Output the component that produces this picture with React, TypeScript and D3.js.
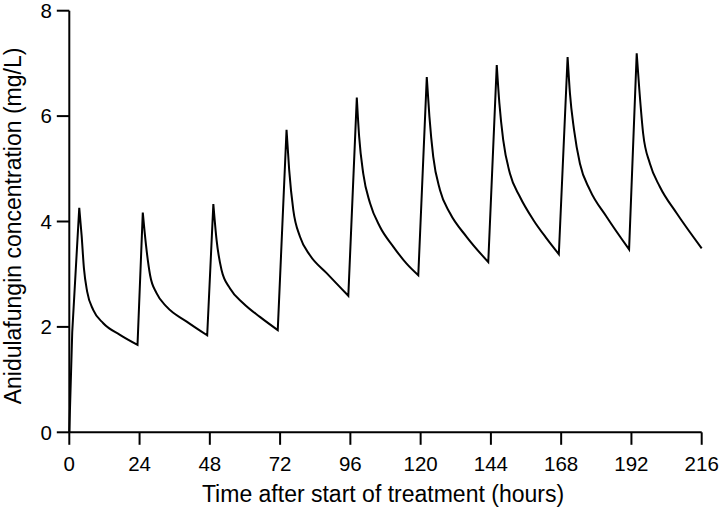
import React from "react";
import * as d3 from "d3";

const timeH: number[] = [
  0, 1.0, 3.4, 4.2, 5.0, 6.1, 8.2, 11.6, 17.3, 23.3,
  25.1, 26.2, 27.6, 29.8, 33.3, 40.1, 47.1,
  49.2, 50.3, 52.0, 54.9, 59.4, 65.1, 71.2,
  74.2, 75.1, 76.5, 78.8, 82.2, 87.9, 95.3,
  98.2, 99.0, 100.4, 102.7, 106.1, 110.7, 115.2, 119.2,
  122.1, 123.0, 124.3, 126.6, 130.0, 135.7, 143.1,
  146.0, 146.9, 148.2, 150.5, 153.9, 158.5, 163.0, 167.2,
  170.2, 171.0, 172.4, 174.4, 177.8, 183.5, 191.2,
  193.8, 194.7, 196.0, 198.3, 201.7, 207.4, 216,
];
const concMgL: number[] = [
  0, 1.9, 4.26, 3.74, 3.11, 2.67, 2.32, 2.07, 1.85, 1.66,
  4.17, 3.55, 2.98, 2.64, 2.38, 2.10, 1.84,
  4.33, 3.65, 3.08, 2.73, 2.45, 2.19, 1.94,
  5.74, 4.98, 4.22, 3.71, 3.36, 3.02, 2.59,
  6.35, 5.61, 4.91, 4.35, 3.90, 3.52, 3.20, 2.98,
  6.74, 5.99, 5.23, 4.60, 4.16, 3.71, 3.23,
  6.97, 6.24, 5.55, 4.91, 4.47, 4.03, 3.68, 3.38,
  7.12, 6.43, 5.74, 5.10, 4.60, 4.09, 3.47,
  7.19, 6.50, 5.67, 5.10, 4.66, 4.16, 3.49,
];
const xTicks: number[] = [0, 24, 48, 72, 96, 120, 144, 168, 192, 216];
const yTicks: number[] = [0, 2, 4, 6, 8];
const xTitle = "Time after start of treatment (hours)";
const yTitle = "Anidulafungin concentration (mg/L)";

type P = [number, number];

export default function App() {
  const W = 720, H = 514;
  const x = d3.scaleLinear().domain([0, 216]).range([69.3, 701.7]);
  const y = d3.scaleLinear().domain([0, 8]).range([432.3, 10.7]);
  const pts: P[] = timeH.map((t, i) => [t, concMgL[i]] as P);

  // rising stretches drawn straight, decaying stretches smoothed
  const smooth = d3.line<P>().x(p => x(p[0])).y(p => y(p[1])).curve(d3.curveMonotoneX);
  let d = `M${x(pts[0][0])},${y(pts[0][1])}`;
  let i = 0;
  while (i < pts.length - 1) {
    if (pts[i + 1][1] > pts[i][1]) {
      d += `L${x(pts[i + 1][0])},${y(pts[i + 1][1])}`;
      i += 1;
    } else {
      let j = i;
      while (j < pts.length - 1 && pts[j + 1][1] <= pts[j][1]) j++;
      const seg = smooth(pts.slice(i, j + 1)) || "";
      d += seg.replace(/^M[^A-Za-z]*/, "");
      i = j;
    }
  }

  const font = "'Liberation Sans', Arial, Helvetica, sans-serif";
  const tick = 12.5;
  return (
    <svg width={W} height={H} style={{ position: "absolute", left: 0, top: 0, background: "#fff" }}
      fontFamily={font}>
      <rect x={0} y={0} width={W} height={H} fill="#fff" />
      <line x1={x(0)} x2={x(0)} y1={y(8)} y2={y(0)} stroke="#000" strokeWidth={2} />
      <line x1={x(0)} x2={x(216)} y1={y(0)} y2={y(0)} stroke="#000" strokeWidth={2} />
      {yTicks.map(v => (
        <g key={"y" + v}>
          <line x1={x(0) - tick} x2={x(0)} y1={y(v)} y2={y(v)} stroke="#000" strokeWidth={2} />
          <text x={52} y={y(v)} dy="0.36em" textAnchor="end" fontSize={20.5} fill="#000">{v}</text>
        </g>
      ))}
      {xTicks.map(v => (
        <g key={"x" + v}>
          <line x1={x(v)} x2={x(v)} y1={y(0)} y2={y(0) + tick} stroke="#000" strokeWidth={2} />
          <text x={x(v)} y={471} textAnchor="middle" fontSize={20.5} fill="#000">{v}</text>
        </g>
      ))}
      <path d={d} fill="none" stroke="#000" strokeWidth={2} strokeLinejoin="miter" strokeMiterlimit={10} />
      <text x={383} y={502} textAnchor="middle" fontSize={23} fill="#000">{xTitle}</text>
      <text transform={`translate(20.5,226) rotate(-90)`} textAnchor="middle" fontSize={23} fill="#000">{yTitle}</text>
    </svg>
  );
}
